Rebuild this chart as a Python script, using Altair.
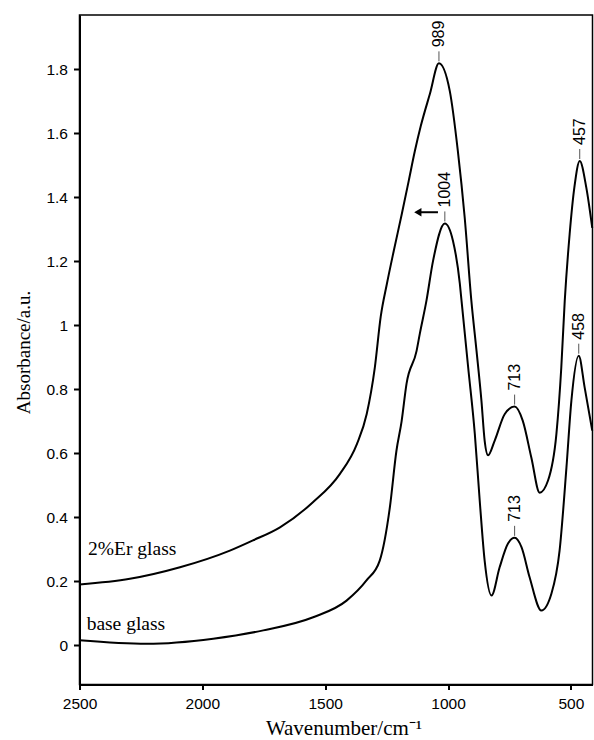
import altair as alt
import pandas as pd

# ---- data ----
wn_er = [2500, 2295, 2091, 1888, 1794, 1684, 1550, 1440, 1371, 1331,
         1298, 1274, 1249, 1221, 1188, 1160, 1135, 1111, 1074, 1037,
         993, 960, 932, 905, 884, 864, 851, 837, 810, 769,
         729, 696, 661, 627, 593, 559, 539, 525, 505, 485,
         464, 437, 413]
abs_er = [0.190, 0.208, 0.244, 0.296, 0.328, 0.369, 0.447, 0.536, 0.629, 0.723,
          0.868, 1.027, 1.129, 1.232, 1.348, 1.451, 1.544, 1.622, 1.722, 1.818,
          1.732, 1.544, 1.335, 1.076, 0.920, 0.764, 0.640, 0.594, 0.640, 0.723,
          0.746, 0.702, 0.587, 0.477, 0.515, 0.660, 0.868, 1.076, 1.285, 1.435,
          1.513, 1.429, 1.304]

wn_base = [2500, 2227, 1956, 1752, 1549, 1413, 1332, 1278, 1237, 1210,
           1189, 1169, 1128, 1115, 1088, 1061, 1013, 980, 952, 945,
           918, 891, 871, 851, 823, 790, 756, 729, 701, 668,
           620, 579, 546, 518, 498, 468, 444, 413]
abs_base = [0.016, 0.005, 0.021, 0.047, 0.088, 0.140, 0.203, 0.265, 0.430, 0.608,
            0.700, 0.817, 0.920, 0.973, 1.076, 1.201, 1.318, 1.264, 1.130, 1.076,
            0.868, 0.661, 0.452, 0.265, 0.156, 0.244, 0.318, 0.336, 0.307, 0.213,
            0.109, 0.162, 0.296, 0.556, 0.764, 0.905, 0.806, 0.671]

peak_text = ["989", "1004", "457", "713", "713", "458"]
peak_wn = [1037, 1013, 464, 729, 729, 468]
peak_abs = [1.818, 1.318, 1.513, 0.746, 0.336, 0.905]

series_text = ["2%Er glass", "base glass"]
series_wn = [2465, 2471]
series_abs = [0.284, 0.047]

arrow_shaft_wn = [1118, 1041]
arrow_head_wn = [1123]
arrow_abs = [1.353]

x_ticks = [2500, 2000, 1500, 1000, 500]
y_ticks = [0, 0.2, 0.4, 0.6, 0.8, 1.0, 1.2, 1.4, 1.6, 1.8]

# ---- tables ----
er_df = pd.DataFrame({"wn": wn_er, "a": abs_er})
base_df = pd.DataFrame({"wn": wn_base, "a": abs_base})
peaks_df = pd.DataFrame({"t": peak_text, "wn": peak_wn, "a": peak_abs})
labels_df = pd.DataFrame({"t": series_text, "wn": series_wn, "a": series_abs})
shaft_df = pd.DataFrame({"wn": [arrow_shaft_wn[0]], "wn2": [arrow_shaft_wn[1]], "a": arrow_abs})
head_df = pd.DataFrame({"wn": arrow_head_wn, "a": arrow_abs})

x_scale = alt.Scale(domain=[412, 2500], reverse=True, nice=False, zero=False)
y_scale = alt.Scale(domain=[-0.122, 1.969], nice=False, zero=False)

x_axis = alt.Axis(values=x_ticks, format="d", title="Wavenumber/cm\u207b\u00b9",
                  titleFont="Liberation Serif", titleFontSize=21, titleFontWeight="normal",
                  titleColor="black", titleX=264, titleY=50, titleAlign="center",
                  titleBaseline="alphabetic",
                  labelFont="Liberation Sans", labelFontSize=15.5, labelColor="black",
                  labelPadding=7, tickSize=5, tickWidth=2, tickColor="black",
                  domainColor="black", domainWidth=2, grid=False, labelFlush=False)
y_axis = alt.Axis(values=y_ticks, format="~g", title="Absorbance/a.u.",
                  titleFont="Liberation Serif", titleFontSize=19, titleFontWeight="normal",
                  titleColor="black", titleAngle=270, titleX=-56, titleY=337,
                  titleAlign="center", titleBaseline="middle",
                  labelFont="Liberation Sans", labelFontSize=15.5, labelColor="black",
                  labelPadding=6, tickSize=6, tickWidth=2, tickColor="black",
                  domainColor="black", domainWidth=2, grid=False)

X = alt.X("wn:Q", scale=x_scale, axis=x_axis)
Y = alt.Y("a:Q", scale=y_scale, axis=y_axis)

er_line = alt.Chart(er_df).mark_line(color="black", strokeWidth=2, interpolate="monotone").encode(
    x=X, y=Y)
base_line = alt.Chart(base_df).mark_line(color="black", strokeWidth=2, interpolate="monotone").encode(
    x=alt.X("wn:Q", scale=x_scale), y=alt.Y("a:Q", scale=y_scale))

peak_ticks = alt.Chart(peaks_df).mark_rule(color="#555555", strokeWidth=1, yOffset=-2, y2Offset=-12).encode(
    x=alt.X("wn:Q", scale=x_scale), y=alt.Y("a:Q", scale=y_scale), y2="a:Q")
peak_labels = alt.Chart(peaks_df).mark_text(angle=270, align="left", baseline="middle", dx=16,
                                            font="Liberation Sans", fontSize=16, color="black").encode(
    x=alt.X("wn:Q", scale=x_scale), y=alt.Y("a:Q", scale=y_scale), text="t:N")

series_labels = alt.Chart(labels_df).mark_text(align="left", baseline="alphabetic",
                                               font="Liberation Serif", fontSize=19.5, color="black").encode(
    x=alt.X("wn:Q", scale=x_scale), y=alt.Y("a:Q", scale=y_scale), text="t:N")

arrow_shaft = alt.Chart(shaft_df).mark_rule(color="black", strokeWidth=2).encode(
    x=alt.X("wn:Q", scale=x_scale), x2="wn2:Q", y=alt.Y("a:Q", scale=y_scale))
arrow_head = alt.Chart(head_df).mark_point(shape="triangle-left", filled=True, color="black",
                                           size=70, opacity=1).encode(
    x=alt.X("wn:Q", scale=x_scale), y=alt.Y("a:Q", scale=y_scale))

chart = alt.layer(er_line, base_line, peak_ticks, peak_labels, series_labels, arrow_shaft, arrow_head).properties(
    width=513, height=669.5,
    padding={"left": 79.5, "top": 15, "right": 1, "bottom": 55},
    autosize=alt.AutoSizeParams(type="none"),
    background="white",
).configure_view(stroke="black", strokeWidth=1.5)

chart.save("out.html", embed_options={"renderer": "svg", "actions": False})
